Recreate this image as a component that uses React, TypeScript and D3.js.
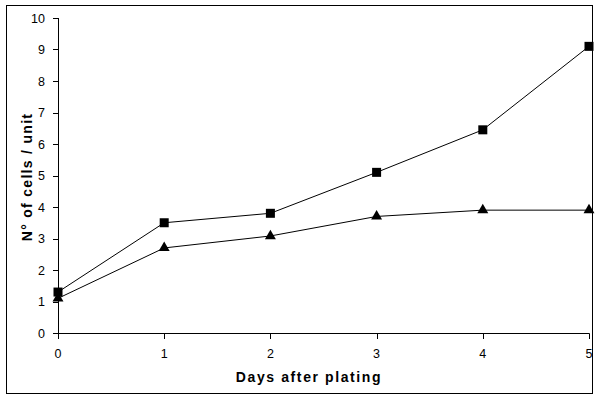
import React from "react";
import * as d3 from "d3";

const days = [0, 1, 2, 3, 4, 5];
const squareSeries = [1.3, 3.5, 3.8, 5.1, 6.45, 9.1];
const triangleSeries = [1.1, 2.7, 3.08, 3.7, 3.9, 3.9];
const yTicks = [0, 1, 2, 3, 4, 5, 6, 7, 8, 9, 10];
const xTicks = [0, 1, 2, 3, 4, 5];

export default function App() {
  const x = d3.scaleLinear().domain([0, 5]).range([58, 589]);
  const y = d3.scaleLinear().domain([0, 10]).range([333, 18]);
  const line = d3
    .line<number>()
    .x((_, i) => x(days[i]))
    .y((d) => y(d));
  const tri = d3.symbol().type(d3.symbolTriangle).size(52)();
  const font = "Arial, 'Liberation Sans', sans-serif";
  return (
    <svg
      width={600}
      height={400}
      style={{ position: "absolute", left: 0, top: 0, background: "#fff" }}
    >
      <rect x={6.5} y={5.5} width={586} height={388} fill="none" stroke="#000" strokeWidth={1} />
      {/* y axis */}
      <line x1={58.5} x2={58.5} y1={y(10)} y2={y(0)} stroke="#000" />
      {yTicks.map((t) => (
        <g key={t}>
          <line x1={53} x2={58.5} y1={Math.round(y(t)) + 0.5} y2={Math.round(y(t)) + 0.5} stroke="#000" />
          <text
            x={45}
            y={y(t)}
            dy="0.36em"
            textAnchor="end"
            fontFamily={font}
            fontSize={12.5}
          >
            {t}
          </text>
        </g>
      ))}
      {/* x axis */}
      <line x1={x(0)} x2={x(5) + 0.5} y1={333.5} y2={333.5} stroke="#000" />
      {xTicks.map((t) => (
        <g key={t}>
          <line x1={Math.round(x(t)) + 0.5} x2={Math.round(x(t)) + 0.5} y1={333.5} y2={339} stroke="#000" />
          <text x={x(t)} y={358} textAnchor="middle" fontFamily={font} fontSize={12.5}>
            {t}
          </text>
        </g>
      ))}
      <text
        x={309}
        y={382}
        textAnchor="middle"
        fontFamily={font}
        fontSize={14}
        fontWeight="bold"
        letterSpacing={1.6}
      >
        Days after plating
      </text>
      <text
        transform={`translate(32,${177}) rotate(-90)`}
        textAnchor="middle"
        fontFamily={font}
        fontSize={14}
        fontWeight="bold"
        letterSpacing={1.3}
      >
        N° of cells / unit
      </text>
      <path d={line(squareSeries) || ""} fill="none" stroke="#000" strokeWidth={1} />
      <path d={line(triangleSeries) || ""} fill="none" stroke="#000" strokeWidth={1} />
      {squareSeries.map((v, i) => (
        <rect key={i} x={x(days[i]) - 4.5} y={y(v) - 4.5} width={9} height={9} fill="#000" />
      ))}
      {triangleSeries.map((v, i) => (
        <path key={i} d={tri || ""} transform={`translate(${x(days[i])},${y(v)})`} fill="#000" />
      ))}
    </svg>
  );
}
